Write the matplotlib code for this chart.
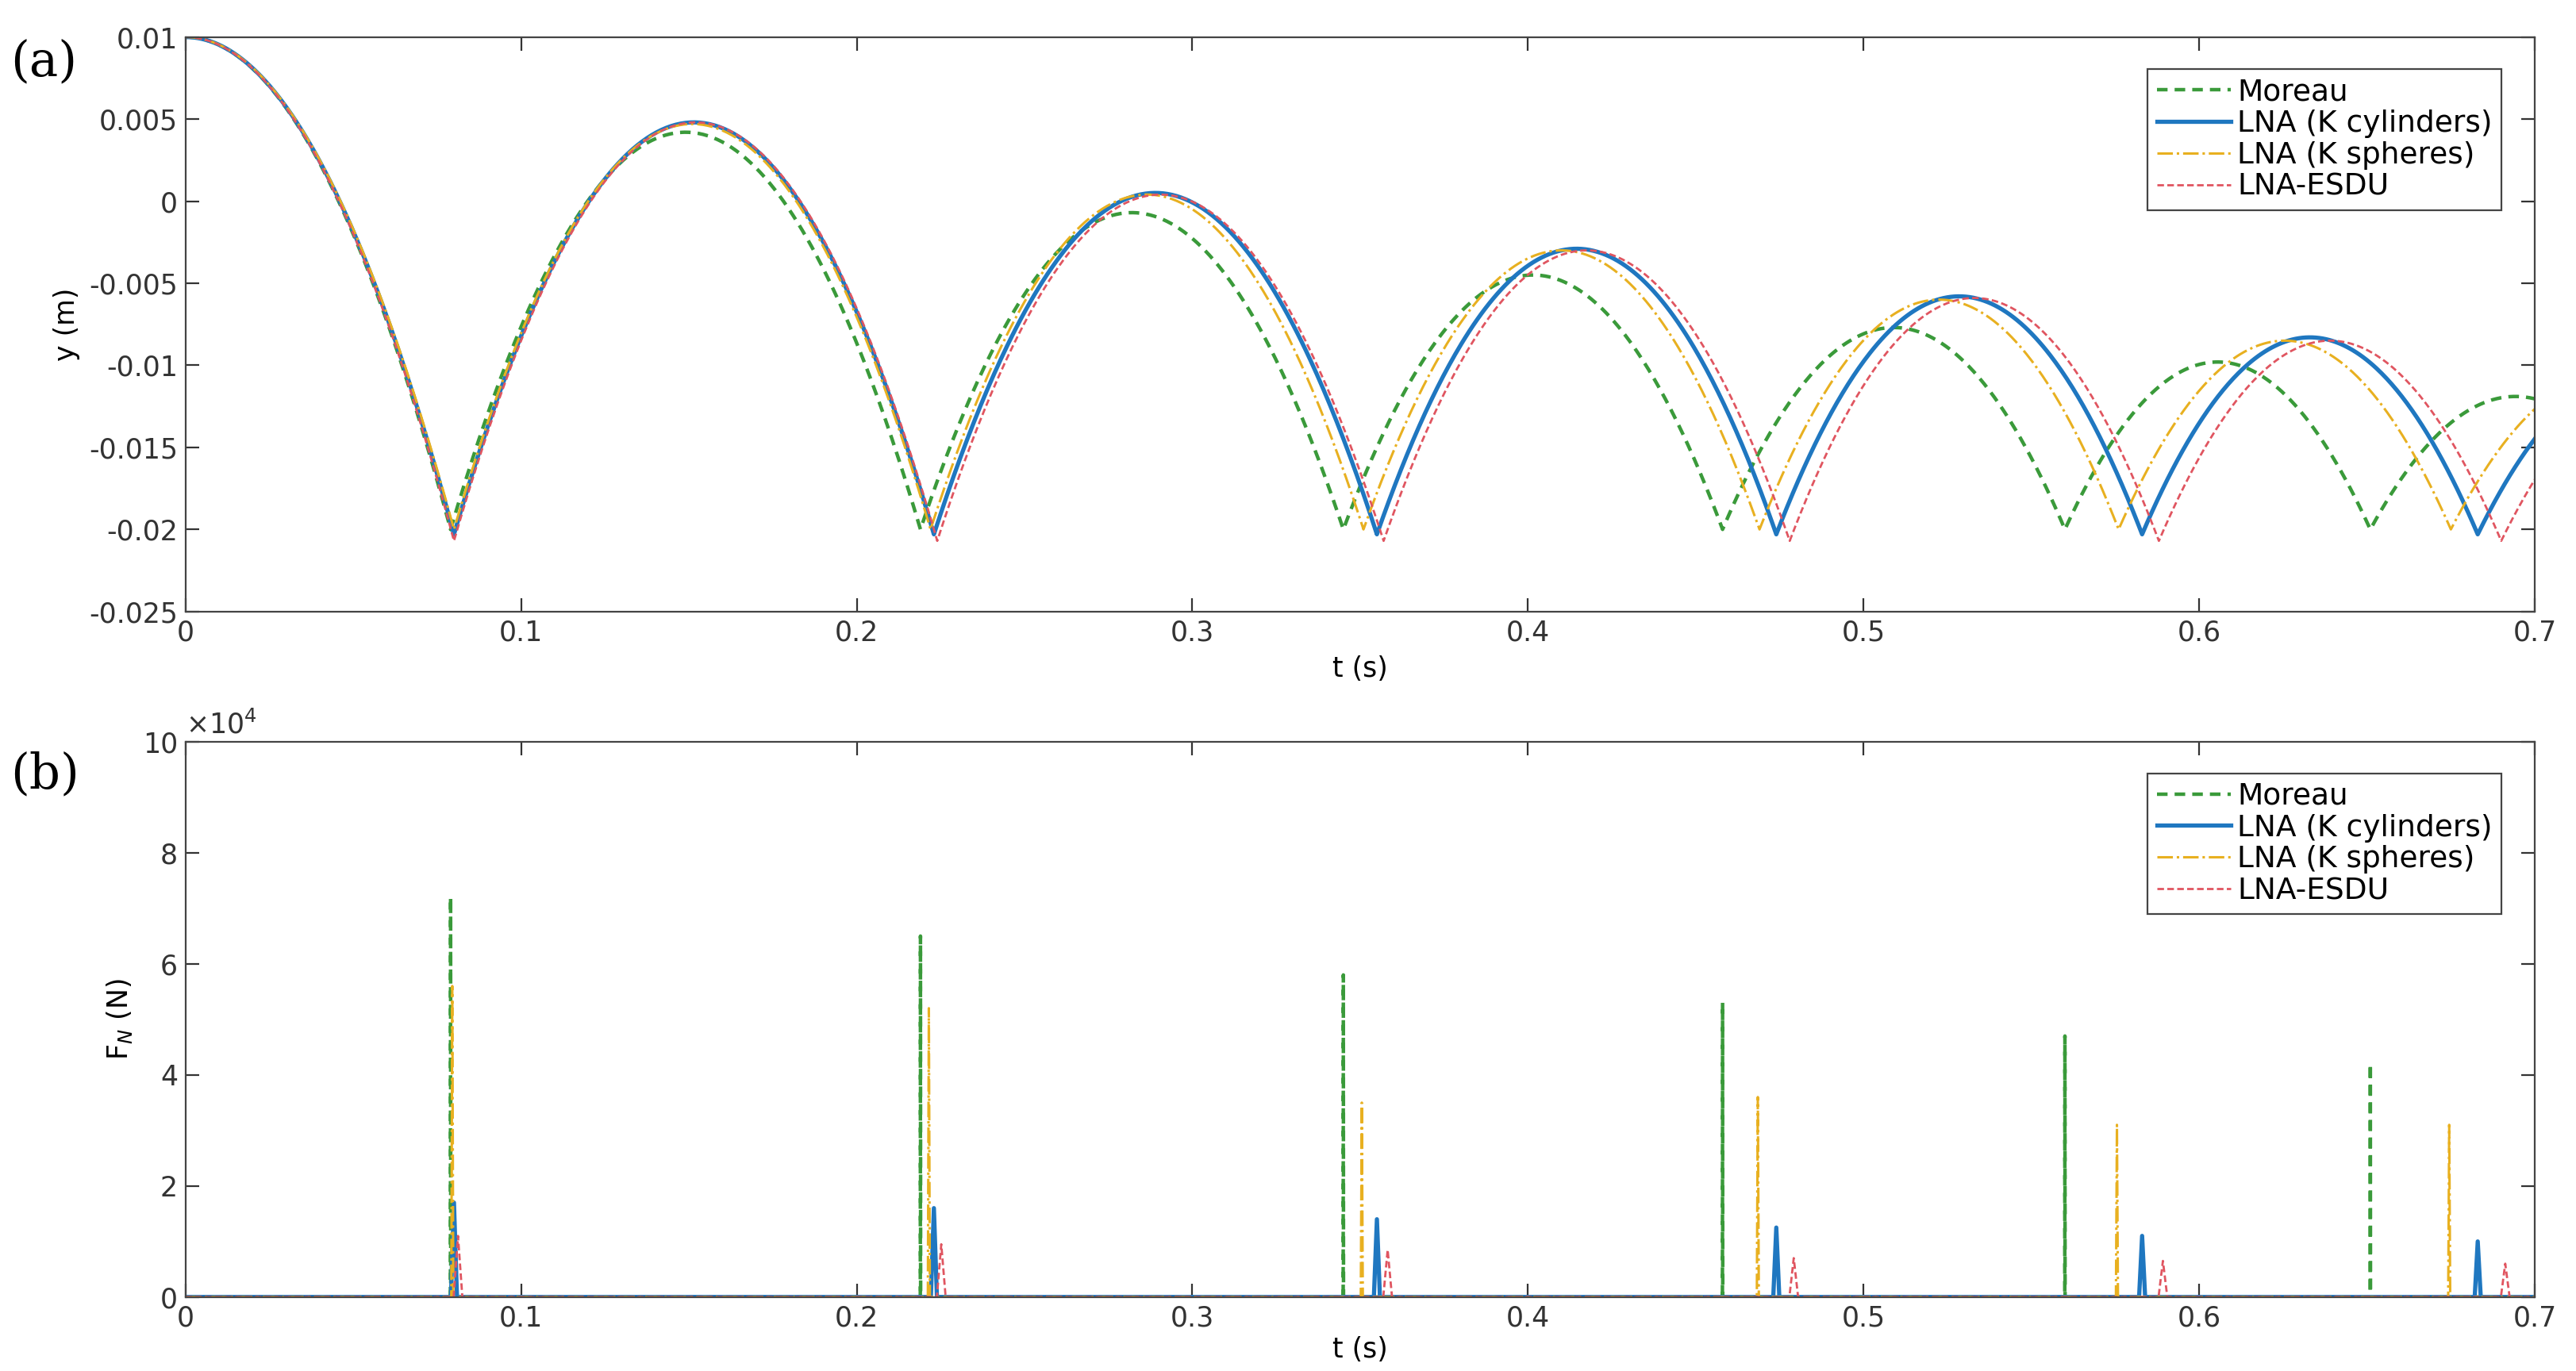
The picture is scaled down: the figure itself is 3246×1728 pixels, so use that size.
import numpy as np
import matplotlib.pyplot as plt

# impact times, apex heights (between impacts) and impact minimum for each model
names = ['Moreau', 'LNA (K cylinders)', 'LNA (K spheres)', 'LNA-ESDU']
impacts = {
    'Moreau': [0.079, 0.219, 0.345, 0.458, 0.560, 0.651],
    'LNA (K cylinders)': [0.080, 0.223, 0.355, 0.474, 0.583, 0.683],
    'LNA (K spheres)': [0.080, 0.222, 0.351, 0.469, 0.576, 0.675],
    'LNA-ESDU': [0.080, 0.224, 0.357, 0.478, 0.588, 0.690],
}
apex = {
    'Moreau': [0.0042, -0.0007, -0.0045, -0.0077, -0.0098, -0.0119],
    'LNA (K cylinders)': [0.0048, 0.0005, -0.0029, -0.0058, -0.0083, -0.0104],
    'LNA (K spheres)': [0.0047, 0.0004, -0.0030, -0.0060, -0.0085, -0.0106],
    'LNA-ESDU': [0.0048, 0.0004, -0.0030, -0.0059, -0.0085, -0.0106],
}
ymin = {'Moreau': -0.0200, 'LNA (K cylinders)': -0.0203,
        'LNA (K spheres)': -0.0200, 'LNA-ESDU': -0.0207}
y0 = 0.01

# contact force peaks (N) and pulse half-widths (s)
peaks = {
    'Moreau': [7.2e4, 6.5e4, 5.8e4, 5.3e4, 4.7e4, 4.2e4],
    'LNA (K cylinders)': [1.7e4, 1.6e4, 1.4e4, 1.25e4, 1.1e4, 1.0e4],
    'LNA (K spheres)': [5.6e4, 5.2e4, 3.5e4, 3.6e4, 3.1e4, 3.1e4],
    'LNA-ESDU': [1.1e4, 0.95e4, 0.85e4, 0.7e4, 0.65e4, 0.6e4],
}
widths = {'Moreau': 0.00005, 'LNA (K cylinders)': 0.0009,
          'LNA (K spheres)': 0.0003, 'LNA-ESDU': 0.0013}
force_shift = {'Moreau': 0.0, 'LNA (K cylinders)': 0.0,
               'LNA (K spheres)': -0.0005, 'LNA-ESDU': 0.0012}

styles = {
    'Moreau': dict(color='#3a9a3a', ls=(0, (3, 2)), lw=1.6),
    'LNA (K cylinders)': dict(color='#1f77c0', ls='-', lw=1.9),
    'LNA (K spheres)': dict(color='#e8b020', ls='-.', lw=1.1),
    'LNA-ESDU': dict(color='#e05560', ls=(0, (3, 1.5)), lw=1.0),
}


def trajectory(name):
    ts = impacts[name]
    hs = apex[name]
    lo = ymin[name]
    tt, yy = [], []
    # first drop from rest
    t = np.linspace(0, ts[0], 200)
    tt.append(t)
    yy.append(y0 - (y0 - lo) * (t / ts[0]) ** 2)
    for i in range(len(ts)):
        if i + 1 < len(ts):
            t0, t1 = ts[i], ts[i + 1]
        else:
            t0 = ts[i]
            t1 = t0 + (ts[i] - ts[i - 1]) * 0.95
        tm, half = (t0 + t1) / 2, (t1 - t0) / 2
        t = np.linspace(t0, min(t1, 0.7), 200)
        tt.append(t)
        yy.append(hs[i] - (hs[i] - lo) * ((t - tm) / half) ** 2)
    return np.concatenate(tt), np.concatenate(yy)


def force(name):
    tt, ff = [0.0], [0.0]
    w = widths[name]
    for t, p in zip(impacts[name], peaks[name]):
        tc = t + force_shift[name]
        tt += [tc - w, tc, tc + w]
        ff += [0.0, p, 0.0]
    tt.append(0.7)
    ff.append(0.0)
    return np.array(tt), np.array(ff)


fig = plt.figure(figsize=(16.23, 8.64), dpi=200)
ax1 = fig.add_axes([0.072, 0.554, 0.912, 0.419])
ax2 = fig.add_axes([0.072, 0.054, 0.912, 0.405])

for n in names:
    t, y = trajectory(n)
    ax1.plot(t, y, label=n, **styles[n])
    t, f = force(n)
    ax2.plot(t, f, label=n, **styles[n])

fs = 12.5
ax1.set_xlim(0, 0.7)
ax1.set_ylim(-0.025, 0.01)
ax1.set_yticks([-0.025, -0.02, -0.015, -0.01, -0.005, 0, 0.005, 0.01])
ax1.set_yticklabels(['-0.025', '-0.02', '-0.015', '-0.01', '-0.005', '0', '0.005', '0.01'])
ax1.set_xticks(np.arange(0, 0.71, 0.1))
ax1.set_xticklabels(['0', '0.1', '0.2', '0.3', '0.4', '0.5', '0.6', '0.7'])
ax1.set_xlabel('t (s)', fontsize=fs)
ax1.set_ylabel('y (m)', fontsize=fs)

ax2.set_xlim(0, 0.7)
ax2.set_ylim(0, 1e5)
ax2.set_yticks(np.arange(0, 1.01e5, 2e4))
ax2.set_yticklabels(['0', '2', '4', '6', '8', '10'])
ax2.set_xticks(np.arange(0, 0.71, 0.1))
ax2.set_xticklabels(['0', '0.1', '0.2', '0.3', '0.4', '0.5', '0.6', '0.7'])
ax2.set_xlabel('t (s)', fontsize=fs, labelpad=2)
ax2.set_ylabel('F$_N$ (N)', fontsize=fs)
ax2.text(0.0, 1.005, r'$\times 10^4$', transform=ax2.transAxes, fontsize=fs,
         color='#333333', va='bottom')

for ax in (ax1, ax2):
    ax.tick_params(direction='in', top=True, right=True, labelsize=fs,
                   colors='#333333', length=6)
    for s in ax.spines.values():
        s.set_color('#444444')
        s.set_linewidth(0.8)
    leg = ax.legend(loc='upper right', fontsize=13.5, fancybox=False,
                    framealpha=1, edgecolor='#444444', handlelength=2.5,
                    handletextpad=0.2, labelspacing=0.1, borderpad=0.3,
                    bbox_to_anchor=(0.992, 0.97))
    leg.get_frame().set_linewidth(0.8)

fig.text(0.004, 0.945, '(a)', fontsize=22, family='serif')
fig.text(0.004, 0.41 + 0.015, '(b)', fontsize=22, family='serif')

fig.savefig('out.png', dpi=200)
